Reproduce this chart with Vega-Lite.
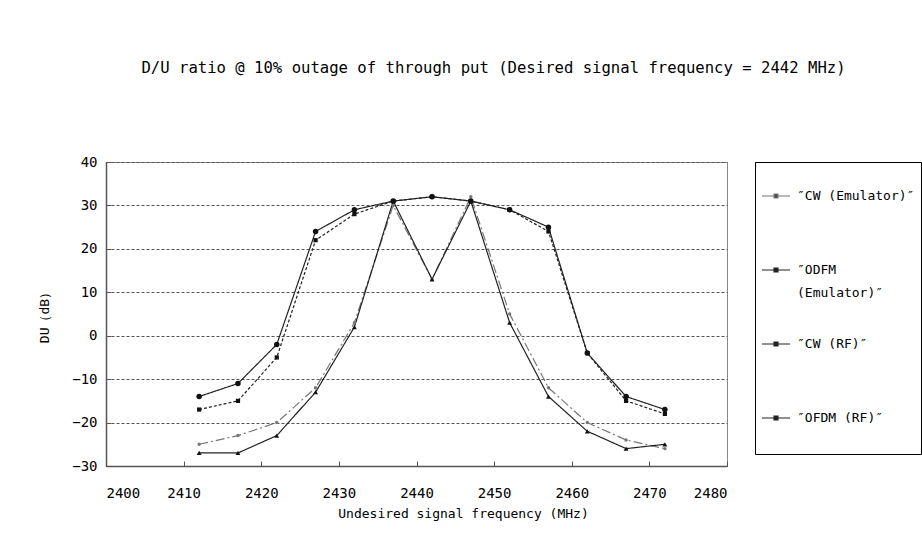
{
  "$schema": "https://vega.github.io/schema/vega-lite/v6.json",
  "width": 621,
  "height": 304,
  "autosize": {"type": "none"},
  "padding": {"left": 106, "top": 162, "right": 195, "bottom": 71},
  "background": "white",
  "title": {
    "text": "D/U ratio @ 10% outage of through put (Desired signal frequency = 2442 MHz)",
    "font": "DejaVu Sans Mono",
    "fontSize": 15.6,
    "fontWeight": "normal",
    "color": "#000",
    "anchor": "middle",
    "offset": 78,
    "dx": 77
  },
  "data": {
    "values": [
      {"f": 2412, "s": "CW (Emulator)", "v": -25},
      {"f": 2417, "s": "CW (Emulator)", "v": -23},
      {"f": 2422, "s": "CW (Emulator)", "v": -20},
      {"f": 2427, "s": "CW (Emulator)", "v": -12},
      {"f": 2432, "s": "CW (Emulator)", "v": 3},
      {"f": 2437, "s": "CW (Emulator)", "v": 30},
      {"f": 2442, "s": "CW (Emulator)", "v": 13},
      {"f": 2447, "s": "CW (Emulator)", "v": 32},
      {"f": 2452, "s": "CW (Emulator)", "v": 5},
      {"f": 2457, "s": "CW (Emulator)", "v": -12},
      {"f": 2462, "s": "CW (Emulator)", "v": -20},
      {"f": 2467, "s": "CW (Emulator)", "v": -24},
      {"f": 2472, "s": "CW (Emulator)", "v": -26},
      {"f": 2412, "s": "ODFM (Emulator)", "v": -17},
      {"f": 2417, "s": "ODFM (Emulator)", "v": -15},
      {"f": 2422, "s": "ODFM (Emulator)", "v": -5},
      {"f": 2427, "s": "ODFM (Emulator)", "v": 22},
      {"f": 2432, "s": "ODFM (Emulator)", "v": 28},
      {"f": 2437, "s": "ODFM (Emulator)", "v": 31},
      {"f": 2442, "s": "ODFM (Emulator)", "v": 32},
      {"f": 2447, "s": "ODFM (Emulator)", "v": 31},
      {"f": 2452, "s": "ODFM (Emulator)", "v": 29},
      {"f": 2457, "s": "ODFM (Emulator)", "v": 24},
      {"f": 2462, "s": "ODFM (Emulator)", "v": -4},
      {"f": 2467, "s": "ODFM (Emulator)", "v": -15},
      {"f": 2472, "s": "ODFM (Emulator)", "v": -18},
      {"f": 2412, "s": "CW (RF)", "v": -27},
      {"f": 2417, "s": "CW (RF)", "v": -27},
      {"f": 2422, "s": "CW (RF)", "v": -23},
      {"f": 2427, "s": "CW (RF)", "v": -13},
      {"f": 2432, "s": "CW (RF)", "v": 2},
      {"f": 2437, "s": "CW (RF)", "v": 31},
      {"f": 2442, "s": "CW (RF)", "v": 13},
      {"f": 2447, "s": "CW (RF)", "v": 31},
      {"f": 2452, "s": "CW (RF)", "v": 3},
      {"f": 2457, "s": "CW (RF)", "v": -14},
      {"f": 2462, "s": "CW (RF)", "v": -22},
      {"f": 2467, "s": "CW (RF)", "v": -26},
      {"f": 2472, "s": "CW (RF)", "v": -25},
      {"f": 2412, "s": "OFDM (RF)", "v": -14},
      {"f": 2417, "s": "OFDM (RF)", "v": -11},
      {"f": 2422, "s": "OFDM (RF)", "v": -2},
      {"f": 2427, "s": "OFDM (RF)", "v": 24},
      {"f": 2432, "s": "OFDM (RF)", "v": 29},
      {"f": 2437, "s": "OFDM (RF)", "v": 31},
      {"f": 2442, "s": "OFDM (RF)", "v": 32},
      {"f": 2447, "s": "OFDM (RF)", "v": 31},
      {"f": 2452, "s": "OFDM (RF)", "v": 29},
      {"f": 2457, "s": "OFDM (RF)", "v": 25},
      {"f": 2462, "s": "OFDM (RF)", "v": -4},
      {"f": 2467, "s": "OFDM (RF)", "v": -14},
      {"f": 2472, "s": "OFDM (RF)", "v": -17}
    ]
  },
  "encoding": {
    "x": {
      "field": "f", "type": "quantitative",
      "scale": {"domain": [2400, 2480], "nice": false, "zero": false},
      "axis": {
        "title": "Undesired signal frequency (MHz)",
        "titleX": 357,
        "titleAnchor": null,
        "titleAlign": "center",
        "format": "d",
        "values": [2400, 2410, 2420, 2430, 2440, 2450, 2460, 2470, 2480],
        "grid": false,
        "tickSize": -5,
        "labelPadding": 25,
        "titlePadding": 7
      }
    },
    "y": {
      "field": "v", "type": "quantitative",
      "scale": {"domain": [-30, 40], "nice": false, "zero": false},
      "axis": {
        "title": "DU（dB）",
        "values": [-30, -20, -10, 0, 10, 20, 30, 40],
        "grid": true,
        "gridDash": [3, 2],
        "gridColor": "#555",
        "gridWidth": 1,
        "tickSize": -5,
        "labelPadding": 14,
        "titlePadding": 20
      }
    }
  },
  "layer": [
    {
      "mark": {"type": "line", "strokeWidth": 1.2},
      "encoding": {
        "color": {
          "field": "s", "type": "nominal",
          "scale": {"domain": ["CW (Emulator)", "ODFM (Emulator)", "CW (RF)", "OFDM (RF)"], "range": ["#777777", "#222222", "#222222", "#222222"]},
          "legend": {
            "title": " ",
            "titleFontSize": 10,
            "titlePadding": 3,
            "orient": "none",
            "legendX": 649,
            "legendY": 0,
            "strokeColor": "#000",
            "fillColor": "white",
            "padding": 6,
            "gridAlign": "all",
            "rowPadding": 29,
            "symbolType": "M-1,0H1M-0.14,-0.14H0.14V0.14H-0.14Z",
            "symbolSize": 784,
            "symbolStrokeWidth": 1.2,
            "symbolFillColor": "#222",
            "labelFont": "DejaVu Sans Mono",
            "labelFontSize": 13,
            "labelColor": "#000",
            "labelOffset": 6,
            "labelLimit": 300,
            "labelExpr": "datum.value == 'ODFM (Emulator)' ? ['″ODFM', '(Emulator)″'] : datum.value == 'OFDM (RF)' ? ['″OFDM (RF)″', ' '] : '″' + datum.value + '″'"
          }
        },
        "strokeDash": {
          "field": "s", "type": "nominal",
          "scale": {"domain": ["CW (Emulator)", "ODFM (Emulator)", "CW (RF)", "OFDM (RF)"], "range": [[9, 3, 2, 3], [3, 2], [1, 0], [1, 0]]},
          "legend": {
            "title": " ",
            "titleFontSize": 10,
            "titlePadding": 3,
            "orient": "none",
            "legendX": 649,
            "legendY": 0,
            "strokeColor": "#000",
            "fillColor": "white",
            "padding": 6,
            "gridAlign": "all",
            "rowPadding": 29,
            "symbolType": "M-1,0H1M-0.14,-0.14H0.14V0.14H-0.14Z",
            "symbolSize": 784,
            "symbolStrokeWidth": 1.2,
            "symbolFillColor": "#222",
            "labelFont": "DejaVu Sans Mono",
            "labelFontSize": 13,
            "labelColor": "#000",
            "labelOffset": 6,
            "labelLimit": 300,
            "labelExpr": "datum.value == 'ODFM (Emulator)' ? ['″ODFM', '(Emulator)″'] : datum.value == 'OFDM (RF)' ? ['″OFDM (RF)″', ' '] : '″' + datum.value + '″'"
          }
        }
      }
    },
    {
      "mark": {"type": "point", "filled": true, "opacity": 1},
      "encoding": {
        "shape": {
          "field": "s", "type": "nominal",
          "scale": {"domain": ["CW (Emulator)", "ODFM (Emulator)", "CW (RF)", "OFDM (RF)"], "range": ["circle", "square", "triangle-up", "circle"]},
          "legend": null
        },
        "size": {
          "field": "s", "type": "nominal",
          "scale": {"domain": ["CW (Emulator)", "ODFM (Emulator)", "CW (RF)", "OFDM (RF)"], "range": [12, 30, 24, 30]},
          "legend": null
        },
        "color": {
          "field": "s", "type": "nominal",
          "scale": {"domain": ["CW (Emulator)", "ODFM (Emulator)", "CW (RF)", "OFDM (RF)"], "range": ["#777777", "#111111", "#111111", "#111111"]},
          "legend": null
        }
      }
    }
  ],
  "resolve": {"scale": {"color": "independent"}},
  "config": {
    "font": "DejaVu Sans Mono",
    "view": {"stroke": "#888", "strokeWidth": 1},
    "style": {"guide-label": {"lineHeight": 23}},
    "axis": {
      "domainColor": "#555",
      "domainWidth": 1.5,
      "tickColor": "#555",
      "labelColor": "#000",
      "titleColor": "#000",
      "labelFont": "DejaVu Sans Mono",
      "titleFont": "DejaVu Sans Mono",
      "labelFontSize": 14,
      "titleFontSize": 13,
      "titleFontWeight": "normal"
    }
  }
}
